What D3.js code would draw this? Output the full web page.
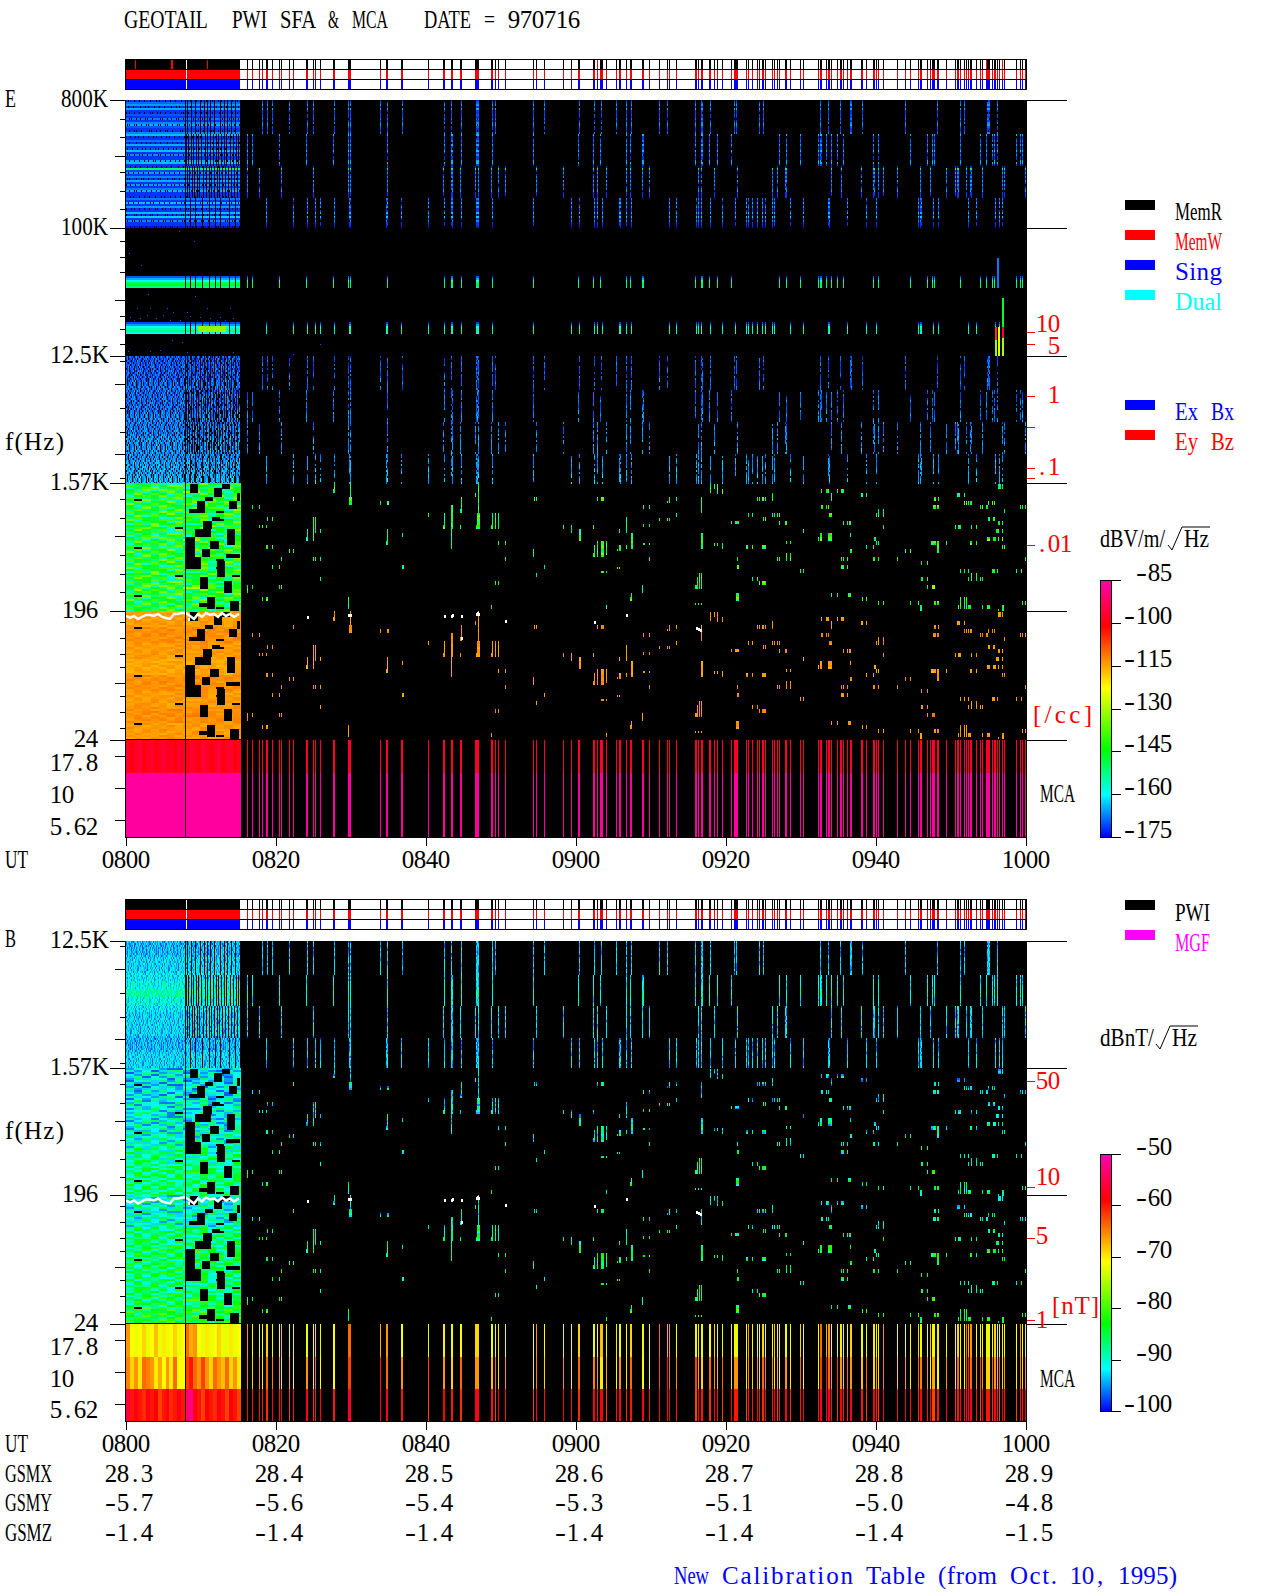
<!DOCTYPE html>
<html>
<head>
<meta charset="utf-8">
<script src="https://cdn.jsdelivr.net/npm/d3@7"></script>
<style>
  html, body { margin: 0; background: #fff; }
  svg { display: block; }
  text { font-family: "Liberation Serif", serif; font-size: 25px; white-space: pre; }
  rect, line { shape-rendering: crispEdges; }
</style>
</head>
<body>
<script>
// Time is counted in 8 second records from 0800 UT, 900 records up to 1000 UT
const timeLabels = ['0800', '0820', '0840', '0900', '0920', '0940', '1000'];
const gsmx = ['28.3', '28.4', '28.5', '28.6', '28.7', '28.8', '28.9'];
const gsmy = ['-5.7', '-5.6', '-5.4', '-5.3', '-5.1', '-5.0', '-4.8'];
const gsmz = ['-1.4', '-1.4', '-1.4', '-1.4', '-1.4', '-1.4', '-1.5'];

const freqE = [800e3, 100e3, 12.5e3, 1.57e3, 196, 24];
const freqELabels = ['800K', '100K', '12.5K', '1.57K', '196', '24'];
const freqB = [12.5e3, 1.57e3, 196, 24];
const freqBLabels = ['12.5K', '1.57K', '196', '24'];

const dbvTicks = [-85, -100, -115, -130, -145, -160, -175];
const dbnTicks = [-50, -60, -70, -80, -90, -100];

// Records with data in each of the four sub bands of the high frequency sweep
const sub1 = [136, 141, 146, 163, 181, 187, 208, 222, 224, 254, 261, 276, 318, 325, 335, 350, 351, 352, 366, 369, 407, 418, 453, 468, 475, 490, 500, 505,
  533, 541, 569, 575, 576, 584, 608, 610, 633, 637, 694, 702, 714, 724, 725, 736, 779, 811, 834, 838, 861, 862, 863, 871];
const sub2 = [121, 126, 153, 180, 207, 222, 224, 261, 318, 325, 326, 335, 350, 351, 352, 366, 407, 452, 467, 474, 500, 504,
  516, 517, 569, 575, 576, 583, 591, 605, 653, 660, 674, 692, 694, 695, 700, 705, 711, 717, 747, 752, 784, 801, 806, 808, 834, 854, 860, 866, 868, 871, 890, 894, 896];
const sub3 = [121, 133, 155, 187, 222, 224, 261, 317, 325, 326, 334, 349, 352, 365, 372, 379, 410, 437, 467, 471, 480, 500, 504,
  516, 523, 572, 575, 588, 611, 646, 651, 659, 660, 705, 715, 735, 747, 748, 752, 757, 771, 794, 804, 820, 829, 831, 832, 840, 844, 845, 856, 876, 878, 899];
const sub4 = [140, 167, 181, 189, 194, 208, 223, 224, 260, 261, 275, 302, 318, 325, 326, 335, 350, 351, 352, 366, 407, 445, 453, 468, 471, 476, 493, 494, 500, 505,
  543, 550, 570, 572, 575, 584, 596, 609, 620, 622, 626, 631, 636, 639, 646, 648, 664, 677, 702, 703, 721, 740, 750, 792, 794, 795, 807, 812, 842, 850, 869, 873, 876];

// Black gaps in the continuous part of the sweep
const gaps1 = [61, 65, 69, 74, 78, 81, 84, 88, 94, 98, 101, 105, 109];
const gaps2 = [60, 62, 65, 67, 70, 72, 75, 79, 81, 84, 87, 90, 92, 95, 98, 100, 104, 107, 110, 112];
const gaps3 = [61, 63, 66, 68, 71, 73, 77, 80, 83, 85, 88, 91, 93, 96, 99, 102, 105, 108, 111];
const gaps4 = [64, 69, 76, 83, 89, 94, 103, 109];

// Level of each 2 px row in the top band of the E panel, dBV/m/rtHz
const bandARows = [-172, -169, -166, -172, -165, -172, -172, -170, -172, -168, -172, -167, -165, -170, -172, -172,
  -167, -164, -172, -172, -168, -172, -165, -172, -170, -164, -172, -167, -172, -172, -165, -164,
  -172, -172, -150, -171, -166, -172, -167, -172, -165, -172, -166, -172, -168, -165, -172, -172,
  -172, -168, -172, -164, -172, -166, -172, -172, -164, -172, -163, -172, -167, -172, -172, -174];

// Emission lines in the second band, null where nothing was received
const bandBRows = [null, null, null, null, null, null, null, null, null, null, null, null, null, null, null, null,
  null, null, null, null, null, null, null, null, -170, -165, -160, -150, -146, -152, null, null,
  null, null, null, null, null, null, null, null, null, null, null, null, null, null, null, -171,
  -166, -160, -156, -153, -158, null, null, null, null, null, null, null, null, null, null, null];
const bandBSpecks = [[3, 25], [15, 37], [68, 13], [53, 3], [22, 66], [69, 68], [11, 80], [24, 80], [41, 80], [61, 84], [81, 80], [104, 80], [4, 89], [21, 87], [37, 87], [47, 84], [94, 89],
  [14, 90], [54, 92], [74, 89], [91, 92], [107, 90], [46, 112], [56, 114], [34, 122], [2, 123], [24, 123], [61, 124], [107, 124], [194, 116], [167, 126], [8, 92], [30, 90], [44, 92], [64, 88], [84, 90], [99, 92]];
const line2Hot = [[72, 100, 98, 104, -132]];
const hotStreaks = [[869, 99, 112, -105], [869, 112, 128, -132], [872, 99, 128, -125], [876, 70, 99, -146], [876, 99, 110, -96], [876, 110, 128, -130], [871, 30, 60, -168]];

// Speckle of the electric and magnetic noise, '.' is no data
const speckle = [
  '24.35120.4613.2503.41620.35142.',
  '0315.2614.023.5104.2530.1426.31',
  '5.2031.4250.61.3420.1503.6241.0',
  '1342.5013.24.50612.3140.2503.14',
  '3.0514.2360.4125.0341.5260.1324',
  '42.1306.5124.203.6150.2413.0536',
  '0251.4.3620.15.3240.6123.4051.2',
  '3614.2053.1.4260.3514.0236.1.45',
  '1.0426.3150.62.4031.5204.1362.3',
  '4253.1.0642.315.0426.1.3504.216',
  '0.3162.4510.243.615.2043.1260.5',
  '2541.0.3624.1053.42.1604.3521.3',
  '6.1230.4152.0.3614.2503.1.4062.',
  '1405.362.1043.5.2160.4132.5043.',
  '3.2614.0531.264.0153.6.2410.352',
  '0543.1.2406.135.4260.3.1542.061'
];
const specklePanelE = [-173, -173, -173, -172, -172, -172, -172, -171, -171, -171, -170, -170, -170, -169, -169, -168];
const specklePanelB = [-98, -98, -97, -97, -96, -95, -93, -95, -96, -97, -97, -97, -98, -98, -97, -97];

const bands = [
  '35463226475436', '63524773543263', '24673462536475', '53727635746235', '46253748836425', '37465263374536',
  '25647362453736', '63342675364527', '4.736224637546', '36254735726374', '73464536274563', '42637544365247',
  '53746253746625', '36342573644527', '64537626453.46', '25364753362473', '47263546673562', '36542275363426',
  '72546636472.53', '46355274563447', '26374562235746', '54472635547263', '367452.3474536', '47536274462537'
];
const bandShiftE = [0, 1, 0, -1, 1, 0, 1, 0];
const bandShiftB1 = [-2, -2, -1, -1, 0, 2, 3, 3];
const bandShiftB2 = [0, 0, 3, 4, 4, 3, 4, 6];

// Records 60 to 114 are only partly sampled in the low frequency bands: [from, to, binTop, binBottom]
const blocks = [[64, 72, 1, 10], [88, 96, 5, 14], [96, 104, 1, 6], [79, 87, 14, 18], [71, 79, 18, 30], [63, 79, 26, 30], [103, 111, 18, 26], [111, 114, 10, 18],
  [86, 94, 34, 38], [77, 86, 38, 46], [69, 85, 46, 54], [101, 109, 46, 62], [59, 69, 54, 74], [84, 93, 58, 66], [76, 84, 66, 74], [59, 75, 74, 86],
  [100, 114, 71, 75], [91, 99, 78, 94], [74, 82, 94, 106], [98, 106, 98, 110], [106, 114, 92, 94], [81, 89, 114, 126], [73, 81, 120, 124], [104, 113, 118, 128]];

// Low frequency detections in the sparse part: [record, binTop, binBottom, width]
const lowMarks = [[208, 0, 6], [207, 6, 10, 2], [224, 0, 14], [223, 14, 22, 3], [167, 14, 18], [254, 18, 22], [261, 18, 22, 2], [408, 14, 18], [410, 14, 18], [471, 14, 18], [475, 14, 18, 3],
  [126, 22, 26], [133, 22, 26], [141, 34, 38], [146, 34, 38], [133, 42, 45], [136, 42, 45], [140, 42, 45], [187, 34, 58], [189, 34, 50], [181, 46, 58], [180, 54, 58, 2], [194, 46, 50],
  [302, 30, 34], [318, 30, 46], [317, 42, 46, 2], [325, 22, 66], [326, 22, 46], [335, 14, 30], [334, 26, 30, 2], [349, 10, 14], [352, 0, 30], [351, 30, 46, 3], [350, 42, 46, 4],
  [366, 30, 46], [365, 42, 46, 2], [369, 30, 46], [372, 30, 46], [334, 42, 46], [261, 46, 62], [260, 58, 62, 2], [276, 50, 54], [140, 62, 66, 2], [146, 62, 66], [163, 66, 70], [167, 66, 70],
  [155, 74, 78], [187, 74, 78], [189, 74, 78], [194, 74, 78], [146, 82, 86], [153, 82, 86], [194, 94, 98], [121, 102, 110], [126, 102, 106], [153, 102, 106], [155, 102, 106], [136, 114, 118], [140, 114, 118, 2],
  [222, 114, 126], [276, 82, 86, 2], [407, 66, 74], [410, 90, 94], [418, 82, 86], [369, 98, 102], [372, 98, 102], [372, 58, 62], [379, 58, 62], [379, 74, 78], [437, 42, 46], [445, 42, 50], [453, 46, 58, 2],
  [467, 42, 46], [493, 46, 50], [500, 34, 50], [505, 50, 66, 2], [468, 62, 74], [467, 70, 74, 2], [471, 58, 74], [475, 58, 74, 3], [480, 58, 72], [491, 66, 68], [493, 62, 68, 2], [500, 62, 66],
  [475, 88, 90, 3], [480, 88, 90], [491, 84, 86], [493, 84, 86], [505, 110, 118], [504, 114, 118, 2], [480, 122, 126], [365, 122, 126],
  [584, 1, 10], [588, 1, 6], [591, 1, 11], [596, 6, 11], [695, 6, 10], [700, 6, 10, 2], [702, 6, 10], [705, 10, 18], [711, 6, 10], [715, 6, 10, 3], [717, 6, 10], [735, 10, 14, 2], [740, 10, 14], [831, 10, 14, 3], [838, 10, 14],
  [872, 1, 6, 3], [876, 1, 6], [543, 14, 20], [541, 18, 20], [550, 14, 18], [631, 14, 18], [633, 14, 18], [636, 14, 18, 2], [639, 14, 18], [646, 10, 18], [808, 14, 18, 2], [812, 14, 18], [575, 14, 30],
  [517, 22, 26], [523, 22, 26], [695, 22, 26, 2], [700, 22, 26], [702, 22, 26], [807, 22, 26, 3], [811, 22, 26, 2], [838, 18, 22], [840, 18, 22], [842, 18, 22], [844, 18, 22, 2], [854, 22, 26], [856, 22, 26], [860, 22, 26, 2],
  [862, 18, 22], [866, 18, 22], [868, 18, 22], [894, 22, 26], [896, 22, 26], [899, 22, 26], [878, 26, 30], [550, 30, 34], [622, 30, 34], [626, 30, 34], [646, 30, 34], [648, 30, 34], [651, 30, 34], [653, 30, 34],
  [703, 30, 34, 2], [705, 30, 34], [752, 26, 34], [750, 30, 34], [757, 26, 34], [533, 35, 38], [541, 35, 38], [543, 35, 38], [637, 34, 38], [639, 34, 38], [605, 38, 41], [609, 38, 41, 4], [653, 38, 42], [659, 38, 42, 2],
  [717, 38, 42], [721, 38, 42], [723, 38, 42, 2], [862, 34, 38, 2], [867, 34, 38, 2], [872, 38, 42, 2], [876, 38, 42], [517, 41, 44], [523, 41, 44], [757, 42, 46], [829, 42, 46], [832, 42, 46, 2], [834, 42, 46], [845, 42, 46], [850, 42, 46],
  [677, 46, 50], [870, 46, 50, 2], [872, 46, 50], [876, 46, 50], [724, 50, 54], [575, 50, 66, 2], [692, 54, 58], [694, 50, 58, 2], [702, 50, 58, 3], [705, 50, 58], [748, 54, 58, 2], [750, 58, 62], [752, 58, 62],
  [861, 54, 58, 3], [867, 54, 58, 3], [872, 54, 58], [876, 54, 58], [588, 60, 63], [591, 60, 63], [596, 60, 66], [517, 60, 62, 2], [523, 60, 62], [620, 62, 66, 2], [626, 62, 66], [636, 62, 66, 3], [639, 62, 66], [660, 58, 61], [664, 58, 61],
  [805, 58, 62, 3], [807, 58, 62, 3], [811, 58, 70, 2], [820, 58, 62], [844, 58, 62, 2], [850, 58, 62], [740, 62, 66], [747, 62, 66], [876, 62, 66], [878, 62, 66], [724, 66, 70, 2], [779, 66, 70], [784, 66, 70],
  [523, 74, 78], [611, 74, 78], [651, 74, 78], [653, 74, 78], [660, 70, 78], [664, 70, 78], [715, 74, 78], [717, 74, 78], [721, 74, 78], [747, 74, 78, 2], [752, 74, 78], [771, 74, 78], [899, 74, 78], [795, 78, 82], [801, 78, 82],
  [611, 82, 86, 2], [715, 82, 86, 3], [721, 82, 86], [674, 86, 90], [677, 86, 90], [834, 86, 90], [838, 86, 90], [842, 86, 90], [866, 86, 90, 3], [871, 86, 90], [890, 86, 90], [895, 86, 90], [845, 90, 98], [842, 94, 98],
  [850, 90, 98], [854, 94, 98], [856, 94, 98], [626, 94, 98], [631, 94, 98], [633, 98, 102], [636, 98, 102, 3], [639, 98, 102], [575, 90, 106], [573, 90, 106], [571, 94, 106], [569, 102, 106, 3], [795, 94, 98, 2], [801, 94, 98],
  [801, 102, 106], [806, 102, 106, 3], [516, 102, 110], [705, 110, 114], [711, 110, 114], [722, 110, 114, 3], [610, 110, 118, 3], [736, 114, 118], [740, 114, 118], [752, 118, 122], [757, 118, 122], [784, 118, 122], [792, 118, 122],
  [808, 118, 122, 2], [811, 118, 122, 2], [834, 114, 126], [838, 114, 126], [840, 114, 126], [832, 122, 126], [842, 122, 126, 3], [856, 122, 126], [861, 122, 126, 3], [896, 118, 122], [899, 118, 122], [569, 120, 122], [572, 120, 122], [575, 120, 122], [794, 122, 128, 2], [872, 126, 128], [876, 122, 128, 2]];

// Electron gyro frequency trace across the 196 Hz line
const gyroRecords = [0, 4, 8, 12, 16, 20, 24, 28, 32, 36, 40, 44, 48, 52, 56, 60, 64, 68, 72, 76, 80, 84, 88, 92, 96, 100, 104, 108, 113];
const gyroBins = [5, 7, 5, 8, 6, 4, 4, 5, 3, 6, 7, 8, 3, 3, 2, 2, 5, 8, 3, 6, 2, 4, 3, 6, 2, 5, 3, 6, 3];
const whiteDots = [[62, 7], [181, 5], [318, 4], [325, 4], [326, 3], [335, 4], [335, 26], [350, 2], [351, 1], [352, 2], [379, 9], [468, 10], [500, 3], [222, 3], [223, 3], [224, 3], [570, 16], [572, 17], [574, 18]];

// MCA channel levels, one value for each 4 records of the continuous part
const mcaRedE = [-98, -100, -98, -96, -100, -98, -97, -100, -98, -96, -99, -98, -100, -97, -98, -100, -97, -98, -100, -96, -98, -100, -98, -96, -100, -98, -97, -100, -98];
const mcaPinkE = [-87, -87, -87, -87, -87, -87, -87, -87, -87, -87, -87, -87, -87, -87, -87, -87, -87, -87, -87, -87, -87, -87, -87, -87, -87, -87, -87, -87, -87];
const mcaTopB = [-66, -71, -72, -71, -69, -72, -71, -68, -72, -70, -72, -71, -69, -72, -71, -64, -67, -66, -71, -72, -70, -72, -71, -69, -72, -72, -70, -72, -71];
const mcaMidB = [-65, -69, -66, -70, -64, -65, -66, -70, -67, -71, -66, -70, -64, -71, -71, -62, -60, -64, -66, -62, -66, -69, -64, -66, -68, -64, -69, -66, -70];
const mcaLowB = [-56, -60, -58, -60, -61, -58, -60, -59, -62, -60, -58, -61, -60, -58, -60, -54, -52, -58, -60, -62, -59, -60, -61, -58, -60, -62, -59, -60, -62];

const statusTicks = [9, 45, 46, 81, 471, 860, 876];

const xScale = d3.scaleLinear().domain([0, 900]).range([126, 1026]);
const timeRecords = d3.range(0, 901, 150);
const dbToColor = d3.scaleLinear()
  .domain([0, 0.165, 0.34, 0.58, 0.82, 1])
  .range(['#0000ff', '#00ffff', '#00ff00', '#ffff00', '#ff0000', '#ff00b4'])
  .clamp(true);
const colorE = d3.scaleLinear().domain([-175, -85]).range([0, 1]);
const colorB = d3.scaleLinear().domain([-100, -50]).range([0, 1]);
const dbvColor = (v) => dbToColor(colorE(v));
const dbnColor = (v) => dbToColor(colorB(v));

const svg = d3.select('body').append('svg').attr('width', 1280).attr('height', 1593);

// The original lettering sits in a fixed 12 px cell for each character.
// Numbers go character by character, words are fitted as a whole so wide capitals stay inside.
function label(x, y, str, color = '#000', cell = 12) {
  const t = svg.append('text').attr('y', y).attr('fill', color);
  let i = 0;
  str.split(/( +)/).forEach((word) => {
    if (word.trim() === '') {
      if (word) t.append('tspan').text(word);
    } else if (/^[-0-9.,]+$/.test(word)) {
      Array.from(word).forEach((ch, k) => {
        const s = t.append('tspan').attr('x', x + (i + k) * cell).text(ch);
        const w = s.node().getComputedTextLength();
        if (ch === '-') s.attr('textLength', cell - 1).attr('lengthAdjust', 'spacingAndGlyphs');
        else s.attr('x', x + (i + k) * cell + (cell - w) / 2);
      });
    } else {
      const s = t.append('tspan').attr('x', x + i * cell).text(word);
      const fit = word.length * cell - 1;
      // squeeze wide words, spread narrow ones without stretching the letters
      s.attr('lengthAdjust', s.node().getComputedTextLength() > fit ? 'spacingAndGlyphs' : 'spacing').attr('textLength', fit);
    }
    i += word.length;
  });
}

function hline(x1, x2, y, color = '#000') {
  svg.append('line').attr('x1', x1).attr('x2', x2).attr('y1', y).attr('y2', y).attr('stroke', color);
}

function statusBar(top) {
  const spans = [];
  const all = Array.from(new Set([...sub1, ...sub2, ...sub3, ...sub4])).sort(d3.ascending);
  all.forEach((r) => {
    const last = spans[spans.length - 1];
    if (last && r === last[1]) last[1] = r + 1;
    else spans.push([r, r + 1]);
  });
  const g = svg.append('g');
  ['#000', '#f00', '#00f'].forEach((c, i) => {
    g.append('rect').attr('x', 125).attr('y', top + i * 10).attr('width', xScale(114) - 125).attr('height', 10).attr('fill', c);
    g.selectAll(null).data(spans).join('rect')
      .attr('x', (d) => xScale(d[0])).attr('y', top + i * 10)
      .attr('width', (d) => xScale(d[1]) - xScale(d[0])).attr('height', 10).attr('fill', c);
  });
  g.append('rect').attr('x', xScale(60) - 0.5).attr('y', top).attr('width', 1).attr('height', 30).attr('fill', '#fff');
  d3.range(4).forEach((i) => hline(125, 1027, top + i * 10 + 0.5));
  g.append('rect').attr('x', 125.5).attr('y', top + 0.5).attr('width', 901).attr('height', 30).attr('fill', 'none').attr('stroke', '#000');
  return spans;
}

// Every heat map cell goes through here: [record, width, y, height, colour]
function drawCells(cells) {
  svg.append('g').selectAll('rect').data(cells).join('rect')
    .attr('x', (d) => xScale(d[0])).attr('width', (d) => xScale(d[0] + d[1]) - xScale(d[0]))
    .attr('y', (d) => d[2]).attr('height', (d) => d[3]).attr('fill', (d) => d[4]);
}

const subBins = [[0, 34], [34, 66], [66, 98], [98, 128]];
const subRecords = [sub1, sub2, sub3, sub4];
const subGaps = [gaps1, gaps2, gaps3, gaps4];

function highBand(cells, top, scale, levelAt) {
  // scale maps one band bin to pixels, levelAt gives the colour of a cell or null
  const rowH = 2 * scale;
  d3.range(64).forEach((row) => {
    const y = top + row * rowH;
    const bin = row * 2;
    const sub = subBins.findIndex((b) => bin >= b[0] && bin < b[1]);
    subRecords[sub].forEach((r) => {
      const c = levelAt(r, row);
      if (c) cells.push([r, 1, y, rowH, c]);
    });
    d3.range(0, 114).forEach((r) => {
      const c = levelAt(r, row);
      if (c) cells.push([r, 1, y, rowH, c]);
    });
    subGaps[sub].forEach((r) => cells.push([r, 1, y, rowH, '#000']));
  });
}

function lowBand(cells, top, scale, levelAt) {
  d3.range(64).forEach((row) => {
    d3.range(14).forEach((col) => {
      const c = levelAt(col, row);
      if (c) cells.push([col * 8.2, 8.2, top + row * 2 * scale, 2 * scale, c]);
    });
  });
  blocks.forEach((b) => cells.push([b[0], b[1] - b[0], top + b[2] * scale, (b[3] - b[2]) * scale, '#000']));
  lowMarks.forEach((m) => {
    for (let bin = m[1]; bin < m[2]; bin += 2) {
      const row = Math.floor(bin / 2);
      const c = levelAt(m[0] % 14, row) || levelAt(3, row);
      cells.push([m[0], m[3] || 1, top + bin * scale, Math.min(2, m[2] - bin) * scale, c]);
    }
  });
}

function speckleChar(r, row) {
  const line = speckle[row % 16];
  return line[(r + row * 7) % line.length];
}

function speckleLevel(r, row, base, step, color, holes) {
  const ch = speckleChar(r, row);
  if (ch === '.' && holes) return null;
  return color(base[Math.floor(row / 4)] + (ch === '.' ? 3 : +ch) * step);
}

function bandLevel(col, row, base, step, shift, color) {
  const ch = bands[row % bands.length][col % 14];
  if (ch === '.') return null;
  return color(base + (+ch) * step + shift[Math.floor(row / 8)]);
}

function mcaColumns(cells, spans, top, height, values, sparse, color) {
  d3.range(29).forEach((i) => cells.push([i * 3.95, 3.95, top, height, color(values[i])]));
  spans.forEach((s, i) => cells.push([s[0], s[1] - s[0], top, height, color(sparse !== null ? sparse : Math.min(values[i % 29], -57))]));
}

// E panel
const yE = d3.scaleLog().domain([800e3, 24]).range([100, 740]);
const spansE = statusBar(59);
statusTicks.forEach((r) => svg.append('rect').attr('x', xScale(r)).attr('y', 60).attr('width', 1).attr('height', 9).attr('fill', '#f00'));
svg.append('rect').attr('x', 125).attr('y', yE(800e3)).attr('width', 902).attr('height', 737).attr('fill', '#000');

const cellsE = [];
highBand(cellsE, yE(800e3), 1, (r, row) => (speckleChar(r, row) === '.' && row % 3 === 0 ? null : dbvColor(bandARows[row])));
highBand(cellsE, yE(12.5e3), 1, (r, row) => speckleLevel(r, row, specklePanelE, 1.2, dbvColor, true));
d3.range(64).forEach((row) => {
  if (bandBRows[row] === null) return;
  cellsE.push([0, 114, yE(100e3) + row * 2, 2, dbvColor(bandBRows[row])]);
  const list = row < 32 ? sub2 : sub4;
  list.forEach((r) => cellsE.push([r, 1, yE(100e3) + row * 2, 2, dbvColor(bandBRows[row])]));
  gaps4.forEach((r) => cellsE.push([r, 0.6, yE(100e3) + row * 2, 2, '#000']));
});
line2Hot.forEach((h) => cellsE.push([h[0], h[1] - h[0], yE(100e3) + h[2], h[3] - h[2], dbvColor(h[4])]));
bandBSpecks.forEach((s) => cellsE.push([s[0], 1, yE(100e3) + s[1], 1, dbvColor(-170)]));
hotStreaks.forEach((h) => cellsE.push([h[0], 1.5, yE(100e3) + h[1], h[2] - h[1], dbvColor(h[3])]));
lowBand(cellsE, yE(1.57e3), 1, (c, row) => bandLevel(c, row, -166, 4.5, bandShiftE, dbvColor));
lowBand(cellsE, yE(196), 1, (c, row) => bandLevel(c, row, -117, 0.6, bandShiftE, dbvColor));
mcaColumns(cellsE, spansE, 740, 32.7, mcaRedE, -98, dbvColor);
mcaColumns(cellsE, spansE, 772.7, 64.6, mcaPinkE, -87, dbvColor);
drawCells(cellsE);

// B panel
const yB = d3.scaleLog().domain([12.5e3, 24]).range([941, 1324]);
const spansB = statusBar(899);
svg.append('rect').attr('x', 125).attr('y', 941).attr('width', 902).attr('height', 480).attr('fill', '#000');

const cellsB = [];
highBand(cellsB, yB(12.5e3), 127 / 128, (r, row) => speckleLevel(r, row, specklePanelB, 1.4, dbnColor, false));
lowBand(cellsB, yB(1.57e3), 1, (c, row) => bandLevel(c, row, -99, 2, bandShiftB1, dbnColor));
lowBand(cellsB, yB(196), 1, (c, row) => bandLevel(c, row, -99, 2, bandShiftB2, dbnColor));
mcaColumns(cellsB, spansB, 1324, 33, mcaTopB, null, dbnColor);
mcaColumns(cellsB, spansB, 1357, 32, mcaMidB, null, dbnColor);
mcaColumns(cellsB, spansB, 1389, 32, mcaLowB, null, dbnColor);
drawCells(cellsB);

// gyro trace, and the separating line at record 60 in both panels
const gyroLine = (top) => d3.line().x((d, i) => xScale(gyroRecords[i])).y((d) => top + d);
[yE(196), yB(196)].forEach((top) => {
  svg.append('path').attr('d', gyroLine(top)(gyroBins)).attr('fill', 'none').attr('stroke', '#fff').attr('stroke-width', 2.5);
  whiteDots.forEach((d) => svg.append('rect').attr('x', xScale(d[0])).attr('y', top + d[1]).attr('width', 1.5).attr('height', 3).attr('fill', '#fff'));
});
[[100, 837], [941, 1421]].forEach((p) => {
  svg.append('rect').attr('x', xScale(60) - 1).attr('y', p[0]).attr('width', 1).attr('height', p[1] - p[0]).attr('fill', '#000');
  svg.append('rect').attr('x', 125).attr('y', p[0]).attr('width', 1).attr('height', p[1] - p[0] + 1).attr('fill', '#000');
  hline(125, 1027, p[1] + 0.5);
});

// Frequency ticks, bins inside a band from its top, long ones are the labelled half decades
const ticksA = [[19], [37], [56, 1], [72], [91], [109]];
const ticksBand = [[13], [29], [44], [72, 1], [88], [101], [116]];
const ticksC = [[5], [28, 1], [52], [76], [98, 1], [122]];
const ticksD = [[16], [35], [53, 1], [72], [91], [109]];
const ticksF = [[11], [27], [43], [56], [72, 1], [85], [101], [117]];

function bandTicks(top, list) {
  list.forEach((t) => hline(t[1] ? 115 : 120, 125, top + t[0] + 0.5));
}
bandTicks(yE(800e3), ticksA);
bandTicks(yE(100e3), ticksBand);
bandTicks(yE(12.5e3), ticksC);
bandTicks(yE(1.57e3), ticksD);
bandTicks(yE(196), ticksF);
bandTicks(yB(12.5e3), ticksC);
bandTicks(yB(1.57e3), ticksD);
bandTicks(yB(196), ticksF);
[756, 788, 820, 1340, 1372, 1404].forEach((y) => hline(115, 125, y + 0.5));

freqE.forEach((f) => { hline(110, 125, yE(f) + 0.5); hline(1027, 1067, yE(f) + 0.5); });
freqB.forEach((f) => { hline(110, 125, yB(f) + 0.5); hline(1027, 1067, yB(f) + 0.5); });
timeRecords.forEach((r) => {
  [[837, 846], [1421, 1430]].forEach((p) => svg.append('line').attr('x1', xScale(r) + 0.5).attr('x2', xScale(r) + 0.5).attr('y1', p[0]).attr('y2', p[1]).attr('stroke', '#000'));
});

// Lettering
label(124, 28, 'GEOTAIL  PWI SFA & MCA   DATE = 970716');
label(5, 107, 'E');
label(5, 947, 'B');
const labelRight = {'800K': 109, '100K': 109, '12.5K': 110, '1.57K': 110, '196': 98, '24': 98};
freqE.forEach((f, i) => label(labelRight[freqELabels[i]] - freqELabels[i].length * 12, yE(f) + 7, freqELabels[i]));
freqB.forEach((f, i) => label(labelRight[freqBLabels[i]] - freqBLabels[i].length * 12, yB(f) + 7, freqBLabels[i]));
label(5, 450, 'f(Hz)');
label(5, 1139, 'f(Hz)');
[[771, 1355, '17.8'], [803, 1387, '10'], [835, 1418, '5.62']].forEach((d) => {
  label(50, d[0], d[2]);
  label(50, d[1], d[2]);
});
label(5, 868, 'UT');
label(5, 1452, 'UT');
label(5, 1482, 'GSMX');
label(5, 1511, 'GSMY');
label(5, 1541, 'GSMZ');
timeRecords.forEach((r, i) => {
  const x = xScale(r) - 24;
  label(x, 868, timeLabels[i]);
  label(x, 1452, timeLabels[i]);
  label(x + 3, 1482, gsmx[i]);
  label(x + 3, 1511, gsmy[i]);
  label(x + 3, 1541, gsmz[i]);
});
label(1040, 802, 'MCA');
label(1040, 1387, 'MCA');

// Density scale on the right of the panels, red
[332, 344, 396, 427, 468, 478, 545, 1081, 1187, 1238, 1320].forEach((y) => hline(1027, 1035, y + 0.5, '#f00'));
[[1036, 332, '10'], [1048, 354, '5'], [1048, 403, '1'], [1036, 475, '.1'], [1036, 552, '.01'], [1033, 723, '[/cc]'],
  [1036, 1089, '50'], [1036, 1185, '10'], [1036, 1244, '5'], [1036, 1328, '1'], [1052, 1314, '[nT]']].forEach((d) => label(d[0], d[1], d[2], '#f00'));

// Legends
[[200, '#000', 'MemR', 220], [230, '#f00', 'MemW', 250], [260, '#00f', 'Sing', 280], [290, '#0ff', 'Dual', 310],
  [400, '#00f', 'Ex Bx', 420], [430, '#f00', 'Ey Bz', 450], [900, '#000', 'PWI', 921], [930, '#f0f', 'MGF', 951]].forEach((d) => {
  svg.append('rect').attr('x', 1125).attr('y', d[0]).attr('width', 30).attr('height', 10).attr('fill', d[1]);
  label(1175, d[3], d[2], d[1]);
});

function colorbar(top, bottom, ticks, color, title, titleX, hzX, baseline) {
  const y = d3.scaleLinear().domain(d3.extent(ticks)).range([bottom, top]);
  svg.append('g').selectAll('rect').data(d3.range(bottom - top)).join('rect')
    .attr('x', 1100).attr('width', 12).attr('y', (d) => top + d).attr('height', 1)
    .attr('fill', (d) => color(y.invert(top + d + 0.5)));
  svg.append('rect').attr('x', 1100.5).attr('y', top + 0.5).attr('width', 11).attr('height', bottom - top).attr('fill', 'none').attr('stroke', '#000');
  ticks.forEach((t) => {
    hline(1112, 1121, Math.round(y(t)) + 0.5);
    const s = String(t);
    label(1172 - s.length * 12, Math.round(y(t)) + 1, s);
  });
  label(titleX, baseline, title, '#000', 11);
  label(hzX, baseline, 'Hz', '#000', 13);
  svg.append('path').attr('fill', 'none').attr('stroke', '#000')
    .attr('d', d3.line()([[hzX - 16, baseline - 2], [hzX - 12, baseline + 3], [hzX - 2, baseline - 20], [hzX + 26, baseline - 20]]));
}
colorbar(580, 837, dbvTicks, dbvColor, 'dBV/m/', 1100, 1184, 547);
colorbar(1154, 1411, dbnTicks, dbnColor, 'dBnT/', 1100, 1172, 1046);

label(674, 1584, 'New Calibration Table (from Oct. 10, 1995)', '#00f');
</script>
</body>
</html>
